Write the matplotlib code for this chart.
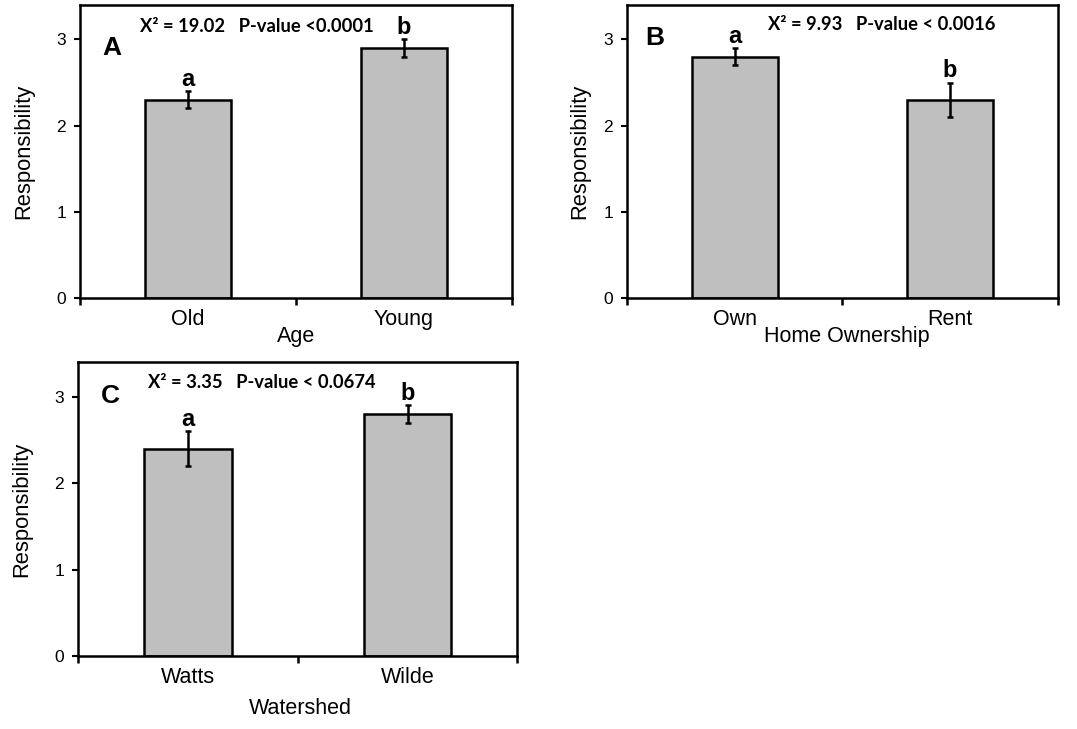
import matplotlib
matplotlib.use("Agg")
import matplotlib.pyplot as plt

plt.rcParams['font.family'] = ['Liberation Sans', 'DejaVu Sans']

# panel A - age
age_groups = ['Old', 'Young']
age_means = [2.3, 2.9]
age_err = [0.1, 0.1]
age_letters = ['a', 'b']

# panel B - home ownership
home_groups = ['Own', 'Rent']
home_means = [2.8, 2.3]
home_err = [0.1, 0.2]
home_letters = ['a', 'b']

# panel C - watershed
shed_groups = ['Watts', 'Wilde']
shed_means = [2.4, 2.8]
shed_err = [0.2, 0.1]
shed_letters = ['a', 'b']

stat_text = ['X\u00b2 = 19.02   P-value <0.0001',
             'X\u00b2 = 9.93   P-value < 0.0016',
             'X\u00b2 = 3.35   P-value < 0.0674']


def draw_panel(ax, groups, means, errs, letters, panel, stat, xlabel,
               stat_pos, panel_pos, xlab_pos, ylab_x):
    x = [1, 2]
    ax.bar(x, means, width=0.4, color='#bfbfbf', edgecolor='black', linewidth=1.8, zorder=2)
    ax.errorbar(x, means, yerr=errs, fmt='none', ecolor='black', elinewidth=1.8,
                capsize=2.2, capthick=1.8, zorder=3)
    for xi, m, e, l in zip(x, means, errs, letters):
        ax.text(xi, m + e + 0.06, l, ha='center', va='baseline',
                fontsize=17, fontweight='bold')

    ax.set_xlim(0.5, 2.5)
    ax.set_ylim(0, 3.4)
    ax.set_yticks([0, 1, 2, 3])
    ax.set_xticks(x)
    ax.set_xticklabels(groups)
    ax.set_xticks([0.5, 1.5, 2.5], minor=True)
    ax.tick_params(axis='x', which='major', length=0, labelsize=15.5, pad=8)
    ax.tick_params(axis='x', which='minor', length=5, width=1.8, direction='out')
    ax.tick_params(axis='y', length=4, width=1.5, direction='out', labelsize=12.5, pad=6)
    for s in ax.spines.values():
        s.set_linewidth(1.8)

    ax.set_ylabel('Responsibility', fontsize=15.8)
    ax.yaxis.set_label_coords(ylab_x, 0.5)
    ax.set_xlabel(xlabel, fontsize=15.5, va='center')
    ax.xaxis.set_label_coords(*xlab_pos)

    ax.text(stat_pos[0], stat_pos[1], stat, transform=ax.transAxes, ha='left', va='center',
            fontsize=13.2, fontweight='bold', family=['Lato', 'DejaVu Sans'])
    ax.text(panel_pos[0], panel_pos[1], panel, transform=ax.transAxes, ha='center', va='center',
            fontsize=19, fontweight='bold')


fig = plt.figure(figsize=(10.77, 7.29), dpi=100)
ax_a = fig.add_axes([0.0743, 0.5912, 0.401, 0.402])
ax_b = fig.add_axes([0.5822, 0.5912, 0.400, 0.402])
ax_c = fig.add_axes([0.0724, 0.1001, 0.408, 0.403])

draw_panel(ax_a, age_groups, age_means, age_err, age_letters, 'A', stat_text[0], 'Age',
           (0.139, 0.928), (0.074, 0.853), (0.5, -0.133), -0.106)
draw_panel(ax_b, home_groups, home_means, home_err, home_letters, 'B', stat_text[1],
           'Home Ownership', (0.327, 0.932), (0.065, 0.887), (0.51, -0.133), -0.086)
draw_panel(ax_c, shed_groups, shed_means, shed_err, shed_letters, 'C', stat_text[2],
           'Watershed', (0.16, 0.932), (0.073, 0.884), (0.506, -0.177), -0.103)

fig.savefig('out.png', dpi=100)
